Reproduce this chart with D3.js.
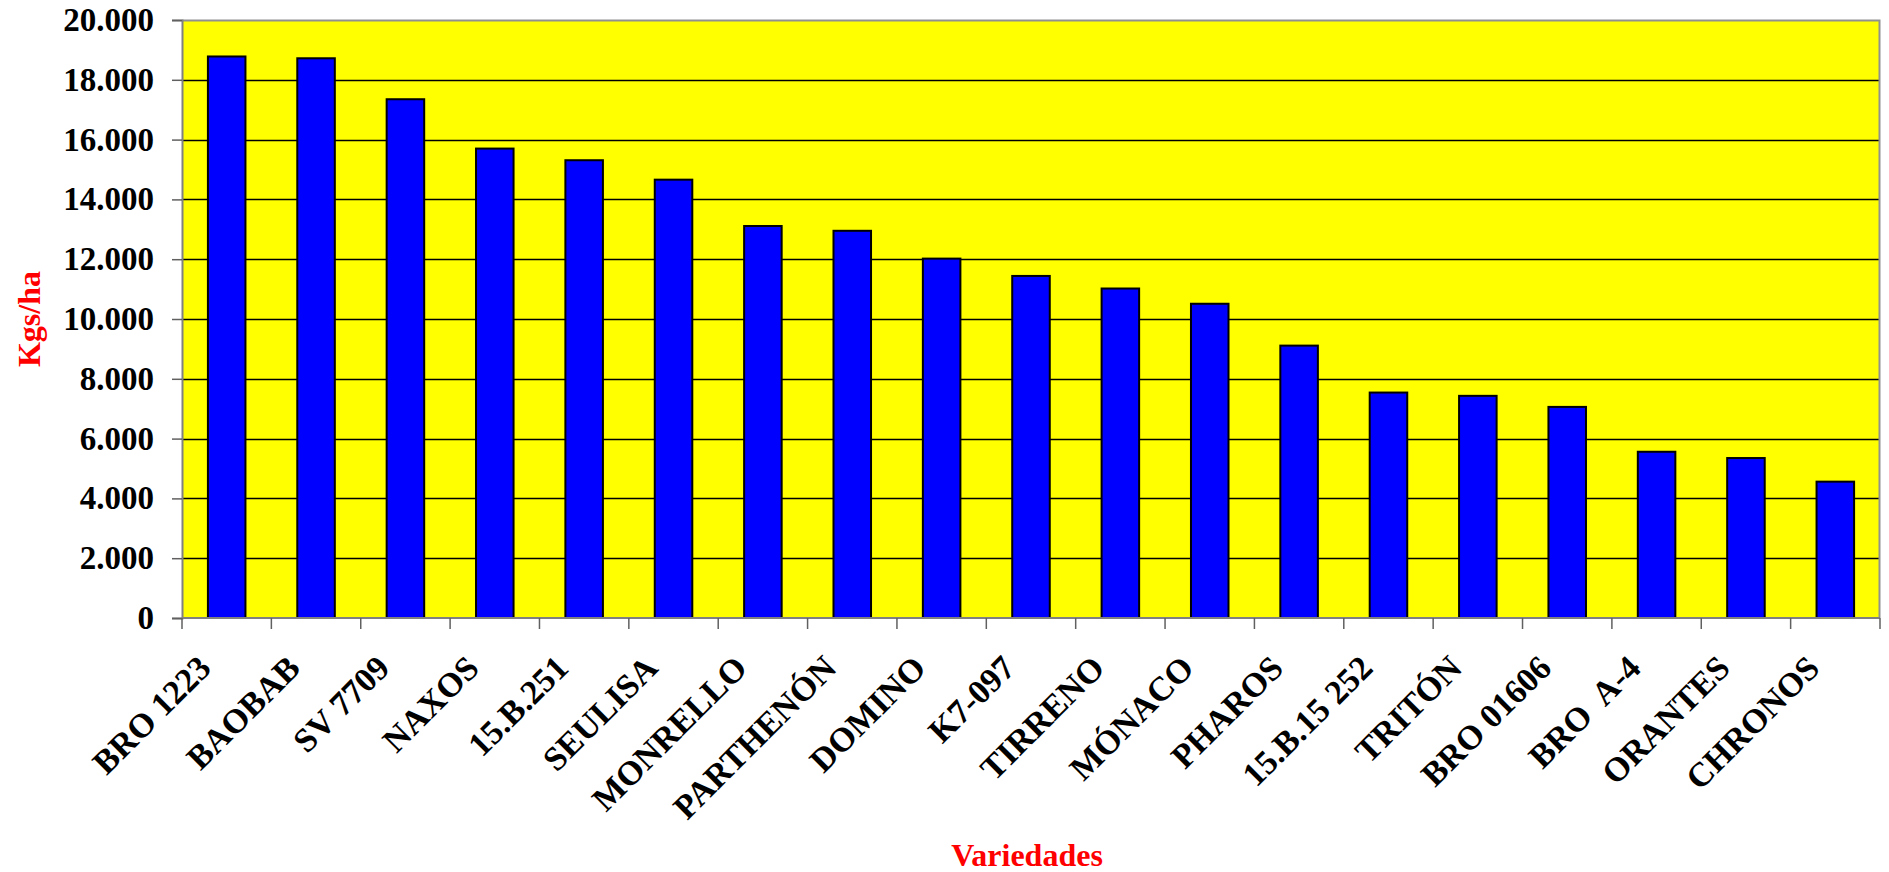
<!DOCTYPE html>
<html>
<head>
<meta charset="utf-8">
<script src="https://cdn.jsdelivr.net/npm/d3@7"></script>
<style>
  html, body { margin: 0; padding: 0; background: #ffffff; }
  svg { display: block; }
  text { font-family: "Liberation Serif", "Times New Roman", serif; font-weight: bold; }
</style>
</head>
<body>
<svg id="chart" width="1889" height="872"></svg>
<script>
const categories = ["BRO 1223", "BAOBAB", "SV 7709", "NAXOS", "15.B.251", "SEULISA", "MONRELLO",
  "PARTHENÓN", "DOMINO", "K7-097", "TIRRENO", "MÓNACO", "PHAROS", "15.B.15 252", "TRITÓN",
  "BRO 01606", "BRO  A-4", "ORANTES", "CHRONOS"];
const values = [18780, 18720, 17350, 15700, 15310, 14660, 13110,
  12950, 12020, 11440, 11020, 10510, 9110, 7540, 7430,
  7060, 5560, 5350, 4560];
const yTicks = [0, 2000, 4000, 6000, 8000, 10000, 12000, 14000, 16000, 18000, 20000];
const yTitle = "Kgs/ha";
const xTitle = "Variedades";

const svg = d3.select("#chart");
const mLeft = 182, mRight = 1880, mTop = 20, mBottom = 618;

const x = d3.scaleBand().domain(categories).range([mLeft, mRight]).paddingInner(0.58).paddingOuter(0.29);
const xb = d3.scaleBand().domain(categories).range([mLeft, mRight]).padding(0);
const y = d3.scaleLinear().domain([0, 20000]).range([mBottom, mTop]);

const fmt = v => v === 0 ? "0" : d3.format(",")(v).replace(/,/g, ".");

// plot background
svg.append("rect").attr("x", mLeft).attr("y", mTop).attr("width", mRight - mLeft).attr("height", mBottom - mTop)
  .attr("fill", "#ffff00");

// gridlines
svg.append("g").selectAll("line").data(yTicks.filter(d => d > 0 && d < 20000)).join("line")
  .attr("x1", mLeft).attr("x2", mRight).attr("y1", d => Math.round(y(d)) + 0.5).attr("y2", d => Math.round(y(d)) + 0.5)
  .attr("stroke", "#000").attr("stroke-width", 1.3);

// border top/right
svg.append("path").attr("d", `M${mLeft},${mTop + 0.5}H${mRight - 0.5}V${mBottom}`)
  .attr("fill", "none").attr("stroke", "#909090").attr("stroke-width", 2);

// bars
svg.append("g").selectAll("rect").data(values).join("rect")
  .attr("x", (d, i) => x(categories[i]))
  .attr("y", d => y(d))
  .attr("width", x.bandwidth())
  .attr("height", d => mBottom - y(d))
  .attr("fill", "#0000ff").attr("stroke", "#000").attr("stroke-width", 2);

// y axis
const yAxis = svg.append("g").attr("transform", `translate(${mLeft},0)`)
  .call(d3.axisLeft(y).tickValues(yTicks).tickFormat(fmt).tickSize(10).tickPadding(18));
yAxis.select(".domain").attr("stroke", "#808080").attr("stroke-width", 2);
yAxis.selectAll(".tick line").attr("stroke", "#606060").attr("stroke-width", 1.5);
yAxis.selectAll(".tick text").attr("font-size", 33).attr("fill", "#000")
  .attr("font-family", "Liberation Serif").attr("font-weight", "bold");

// x axis: ticks at band boundaries
const xAxis = svg.append("g").attr("transform", `translate(0,${mBottom})`);
xAxis.append("line").attr("x1", mLeft).attr("x2", mRight).attr("y1", 0).attr("y2", 0)
  .attr("stroke", "#808080").attr("stroke-width", 2);
const bounds = categories.map(c => xb(c)).concat([mRight]);
xAxis.selectAll("line.tk").data(bounds).join("line").attr("class", "tk")
  .attr("x1", d => d).attr("x2", d => d).attr("y1", 0).attr("y2", 11)
  .attr("stroke", "#606060").attr("stroke-width", 1.5);
xAxis.selectAll("text.lbl").data(categories).join("text").attr("class", "lbl")
  .attr("transform", d => `translate(${x(d) + x.bandwidth() / 2 - 14},52) rotate(-45)`)
  .attr("text-anchor", "end")
  .attr("font-size", 34).attr("fill", "#000")
  .style("white-space", "pre")
  .text(d => d);

// axis titles
svg.append("text").attr("transform", `translate(40,${(mTop + mBottom) / 2}) rotate(-90)`)
  .attr("text-anchor", "middle").attr("font-size", 32).attr("fill", "#ff0000").text(yTitle);
svg.append("text").attr("x", (mLeft + mRight) / 2 - 4).attr("y", 866)
  .attr("text-anchor", "middle").attr("font-size", 32).attr("fill", "#ff0000").text(xTitle);
</script>
</body>
</html>
